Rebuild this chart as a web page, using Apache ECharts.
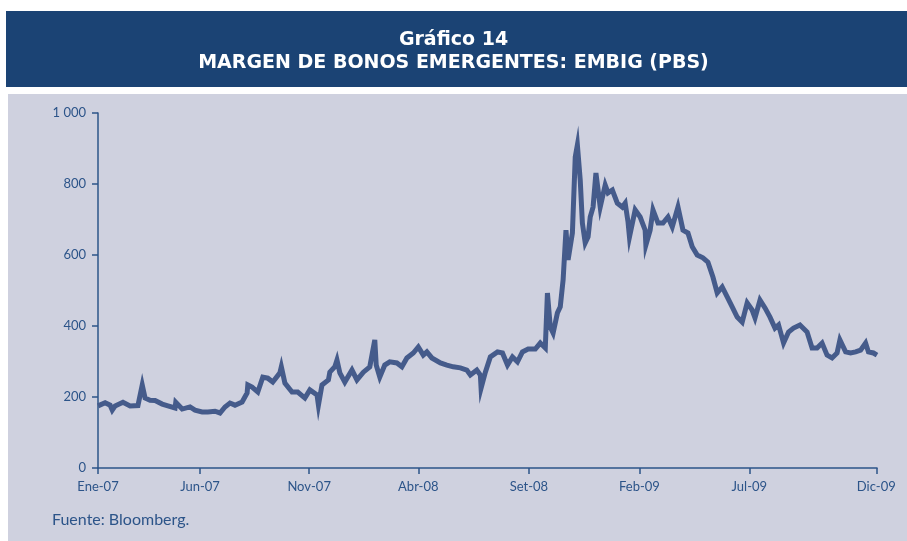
<!DOCTYPE html>
<html>
<head>
<meta charset="utf-8">
<script src="https://cdn.jsdelivr.net/npm/echarts@6/dist/echarts.min.js"></script>
<style>
  html, body { margin: 0; padding: 0; background: #ffffff; }
  #chart { width: 907px; height: 541px; }
</style>
</head>
<body>
<div id="chart"></div>
<script>
// EMBIG spread (pbs); x in approximate day index from Jan-07
var dayIdx = [
  0, 10, 17, 20, 24, 35, 45, 56, 62, 66, 73, 80, 90, 98, 108, 109, 118, 129, 136, 146,
  154, 164, 171, 178, 185, 192, 202, 209, 210, 216, 224, 231, 238, 245, 255, 257, 262, 272, 280, 290,
  297, 307, 309, 314, 323, 325, 332, 335, 339, 346, 356, 363, 372, 381, 388, 390, 395, 402, 409, 419,
  426, 433, 442, 449, 456, 461, 468, 480, 489, 498, 508, 517, 522, 531, 536, 537, 543, 550, 560, 567,
  574, 581, 588, 595, 603, 613, 620, 627, 630, 634, 638, 644, 648, 652, 656, 659, 665, 669, 672, 676,
  679, 683, 687, 690, 694, 698, 704, 711, 715, 721, 728, 735, 739, 743, 745, 753, 760, 767, 768, 774,
  778, 785, 792, 799, 805, 813, 820, 827, 833, 840, 848, 855, 862, 868, 875, 882, 889, 896, 903, 910,
  917, 921, 928, 935, 942, 949, 954, 961, 968, 975, 984, 994, 1001, 1008, 1015, 1022, 1029, 1036, 1040, 1048,
  1055, 1062, 1069, 1076, 1080, 1087, 1092
];
var embig = [
  175, 184, 177, 163, 175, 185, 175, 176, 234, 197, 191, 190, 180, 175, 169, 185, 166, 172, 163, 158,
  158, 160, 155, 172, 183, 177, 186, 211, 234, 228, 214, 256, 253, 242, 268, 285, 239, 214, 214, 197,
  220, 206, 177, 234, 248, 270, 285, 304, 268, 242, 276, 248, 270, 285, 361, 290, 256, 290, 299, 296,
  285, 310, 324, 341, 318, 327, 310, 296, 290, 285, 282, 276, 262, 276, 262, 225, 270, 313, 327, 324,
  290, 313, 299, 327, 335, 335, 352, 338, 493, 397, 380, 437, 454, 530, 670, 586, 662, 876, 910, 811,
  690, 634, 651, 707, 735, 831, 735, 797, 775, 783, 746, 735, 746, 693, 651, 727, 707, 670, 628, 670,
  727, 690, 690, 707, 679, 735, 670, 662, 623, 600, 592, 580, 538, 493, 510, 482, 454, 425, 411, 465,
  445, 423, 473, 451, 425, 394, 403, 352, 383, 394, 403, 383, 338, 338, 352, 318, 310, 324, 361, 327,
  324, 327, 332, 352, 327, 324, 318
];
var tickPos = [0, 143, 296, 449, 604, 759, 913, 1091];
var tickLabels = ['Ene-07', 'Jun-07', 'Nov-07', 'Abr-08', 'Set-08', 'Feb-09', 'Jul-09', 'Dic-09'];

var axisBlue = '#2c5489';
var lineBlue = '#455b8b';
var fontName = 'Lato, "Open Sans", sans-serif';
var titleFont = '"DejaVu Sans", sans-serif';

var points = dayIdx.map(function (d, i) { return [d, embig[i]]; });

var myechart = echarts.init(document.getElementById('chart'), null, { renderer: 'canvas' });

var option = {
  animation: false,
  backgroundColor: '#ffffff',
  graphic: [
    { type: 'rect', z: -10, shape: { x: 6, y: 11, width: 901, height: 76 }, style: { fill: '#1b4374' } },
    { type: 'rect', z: -10, shape: { x: 8, y: 94, width: 899, height: 447 }, style: { fill: '#cfd1df' } },
    {
      type: 'text', left: 52, top: 512,
      style: { text: 'Fuente: Bloomberg.', fill: axisBlue, font: '16px ' + fontName }
    }
  ],
  title: [{
    text: 'Gráfico 14',
    left: 'center',
    top: 26,
    textStyle: { color: '#ffffff', fontSize: 19, fontWeight: 'bold', fontFamily: titleFont }
  }, {
    text: 'MARGEN DE BONOS EMERGENTES: EMBIG (PBS)',
    left: 'center',
    top: 49,
    textStyle: { color: '#ffffff', fontSize: 19, fontWeight: 'bold', fontFamily: titleFont }
  }],
  grid: { left: 98, right: 30, top: 113, bottom: 73, containLabel: false },
  xAxis: {
    type: 'value',
    min: 0,
    max: 1092,
    splitLine: { show: false },
    axisLine: { show: true, lineStyle: { color: axisBlue, width: 1.5 } },
    axisTick: { show: true, length: 6, customValues: tickPos, lineStyle: { color: axisBlue, width: 1.5 } },
    axisLabel: {
      customValues: tickPos,
      margin: 12,
      color: axisBlue,
      fontSize: 13,
      fontFamily: fontName,
      formatter: function (v) {
        var k = tickPos.indexOf(v);
        return k >= 0 ? tickLabels[k] : '';
      }
    }
  },
  yAxis: {
    type: 'value',
    min: 0,
    max: 1000,
    interval: 200,
    splitLine: { show: false },
    axisLine: { show: true, lineStyle: { color: axisBlue, width: 1.5 } },
    axisTick: { show: true, length: 6, lineStyle: { color: axisBlue, width: 1.5 } },
    axisLabel: {
      margin: 12,
      color: axisBlue,
      fontSize: 13,
      fontFamily: fontName,
      formatter: function (v) { return v === 1000 ? '1 000' : String(v); }
    }
  },
  series: [{
    type: 'line',
    data: points,
    symbol: 'none',
    lineStyle: { color: lineBlue, width: 5, join: 'miter', miterLimit: 8 }
  }]
};

myechart.setOption(option);
</script>
</body>
</html>
